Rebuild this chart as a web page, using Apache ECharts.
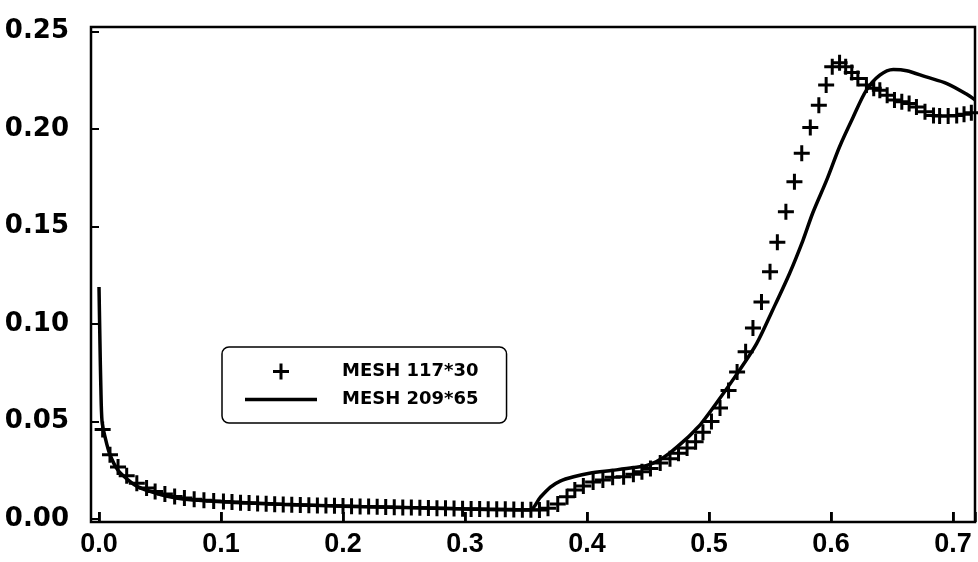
<!DOCTYPE html>
<html>
<head>
<meta charset="utf-8">
<script src="https://cdn.jsdelivr.net/npm/echarts@6/dist/echarts.min.js"></script>
<style>
html,body{margin:0;padding:0;background:#fff;}
#chart{width:978px;height:562px;}
</style>
</head>
<body>
<div id="chart"></div>
<script>
// Tick labels
var xTicks = [0, 0.1, 0.2, 0.3, 0.4, 0.5, 0.6, 0.7];
var yTicks = [0, 0.05, 0.10, 0.15, 0.20, 0.25];

// MESH 117*30 (plus markers)
var meshCoarseX = [0.003,0.009,0.0156,0.0227,0.031,0.039,0.046,0.054,0.062,0.070,0.078,0.086,0.094,0.102,0.109,0.116,0.123,0.130,0.137,0.144,0.151,0.158,0.165,0.172,0.179,0.186,0.193,0.200,0.207,0.214,0.221,0.228,0.235,0.242,0.249,0.256,0.263,0.270,0.277,0.284,0.291,0.298,0.305,0.312,0.319,0.326,0.333,0.340,0.347,0.354,0.361,0.368,0.376,0.3836,0.390,0.397,0.405,0.413,0.421,0.430,0.438,0.445,0.452,0.460,0.468,0.475,0.482,0.489,0.495,0.502,0.509,0.516,0.523,0.530,0.536,0.543,0.550,0.556,0.563,0.570,0.576,0.583,0.590,0.596,0.601,0.607,0.612,0.617,0.622,0.629,0.635,0.640,0.646,0.652,0.658,0.664,0.670,0.677,0.684,0.689,0.696,0.703,0.709,0.715];
var meshCoarseY = [0.046,0.033,0.0267,0.0222,0.0184,0.0159,0.0142,0.0128,0.0116,0.0108,0.0102,0.0097,0.0093,0.0090,0.0087,0.0084,0.0082,0.0080,0.0078,0.0076,0.0075,0.0073,0.0072,0.0071,0.0070,0.0069,0.0068,0.0067,0.0066,0.0065,0.0064,0.0063,0.0062,0.0061,0.0060,0.0059,0.0058,0.0057,0.0056,0.0055,0.0054,0.0053,0.0052,0.0052,0.0051,0.0050,0.0050,0.0049,0.0048,0.0048,0.0046,0.0056,0.0077,0.0114,0.0149,0.0170,0.0190,0.0200,0.0215,0.0217,0.0230,0.0243,0.0260,0.0287,0.0310,0.0338,0.0364,0.0397,0.0445,0.0500,0.0570,0.0660,0.0755,0.0858,0.0980,0.1114,0.1268,0.1420,0.1576,0.1730,0.1877,0.2008,0.2123,0.2226,0.2320,0.2340,0.2320,0.2290,0.2260,0.2226,0.2210,0.2200,0.2174,0.2149,0.2140,0.2131,0.2114,0.2089,0.2070,0.2067,0.2067,0.2070,0.2077,0.2084];

// MESH 209*65 (solid line)
var meshFineX = [0.0,0.0008,0.0015,0.0025,0.005,0.009,0.0156,0.024,0.032,0.043,0.057,0.070,0.090,0.111,0.15,0.2,0.25,0.3,0.353,0.3615,0.370,0.378,0.389,0.402,0.421,0.438,0.449,0.457,0.468,0.482,0.4885,0.493,0.506,0.525,0.539,0.552,0.566,0.577,0.585,0.5965,0.607,0.618,0.629,0.640,0.651,0.662,0.678,0.695,0.711,0.718];
var meshFineY = [0.119,0.090,0.068,0.050,0.042,0.033,0.025,0.020,0.0165,0.0140,0.0115,0.0102,0.0093,0.0086,0.0076,0.0066,0.0059,0.0052,0.0047,0.0110,0.0164,0.0195,0.0217,0.0235,0.0250,0.0264,0.0275,0.0295,0.0340,0.0415,0.0456,0.0485,0.0594,0.0764,0.0900,0.1070,0.1260,0.1430,0.1570,0.1740,0.1910,0.2060,0.2200,0.2277,0.2306,0.2300,0.2268,0.2234,0.2180,0.2150];

function pairs(xs, ys){ var out=[]; for(var i=0;i<xs.length;i++){ out.push([xs[i], ys[i]]); } return out; }

var Y_MIN = -0.0015, Y_MAX = 0.2524;
var FONT = '"Liberation Sans", Arial, Helvetica, sans-serif';
var WIDEFONT = '"DejaVu Sans", Verdana, sans-serif';
var PLUS = 'path://M6.5,0h3v6.5h6.5v3h-6.5v6.5h-3v-6.5h-6.5v-3h6.5z';
var LINEICON = 'path://M0,0h72v3.5h-72z';

var chart = echarts.init(document.getElementById('chart'), null, {renderer:'canvas'});
chart.setOption({
  backgroundColor: '#ffffff',
  animation: false,
  grid: [
    { left: 91, top: 27, width: 884, height: 495, show: true, borderColor: '#000', borderWidth: 2.5, backgroundColor: 'transparent' },
    { left: 99, top: 27, width: 876, height: 495 }
  ],
  legend: {
    left: 222, top: 347,
    orient: 'vertical',
    data: [
      { name: 'MESH 117*30', icon: PLUS },
      { name: 'MESH 209*65', icon: LINEICON }
    ],
    itemWidth: 72, itemHeight: 16, itemGap: 5,
    padding: [13, 28, 12, 23],
    borderColor: '#000', borderWidth: 1.5, borderRadius: 7,
    backgroundColor: '#fff',
    symbolKeepAspect: true,
    itemStyle: { color: '#000', opacity: 1 },
    textStyle: { fontFamily: WIDEFONT, fontWeight: 'bold', fontSize: 18, color: '#000', lineHeight: 23, padding: [0,0,0,20] }
  },
  xAxis: [
    { gridIndex: 0, type: 'value', min: 0, max: 1, show: false },
    {
      gridIndex: 1, type: 'value', min: 0, max: 0.718, interval: 0.1, position: 'bottom',
      splitLine: { show: false },
      axisLine: { show: false, onZero: false },
      axisTick: { show: true, inside: true, length: 10, lineStyle: { color: '#000', width: 2.5 } },
      axisLabel: { customValues: xTicks, margin: 9, fontFamily: FONT, fontWeight: 'bold', fontSize: 27, color: '#000',
        formatter: function(v){ return v.toFixed(1); } }
    }
  ],
  yAxis: [
    { gridIndex: 0, type: 'value', min: 0, max: 1, show: false },
    {
      gridIndex: 1, type: 'value', min: Y_MIN, max: Y_MAX, position: 'left',
      splitLine: { show: false },
      axisLine: { show: false, onZero: false },
      axisTick: { show: true, inside: false, length: 9, customValues: yTicks, lineStyle: { color: '#000', width: 2 } },
      axisLabel: { customValues: yTicks, margin: 30, fontFamily: WIDEFONT, fontWeight: 'bold', fontSize: 26, color: '#000',
        formatter: function(v){ return v.toFixed(2); } }
    }
  ],
  series: [
    {
      name: 'MESH 117*30',
      type: 'scatter',
      xAxisIndex: 1, yAxisIndex: 1,
      symbol: PLUS,
      symbolSize: 16,
      clip: false,
      itemStyle: { color: '#000', opacity: 1 },
      data: pairs(meshCoarseX, meshCoarseY),
      z: 3
    },
    {
      name: 'MESH 209*65',
      type: 'line',
      xAxisIndex: 1, yAxisIndex: 1,
      symbol: 'none',
      smooth: 0.3,
      lineStyle: { color: '#000', width: 3.5 },
      itemStyle: { color: '#000' },
      data: pairs(meshFineX, meshFineY),
      z: 2
    }
  ]
});

// x-axis tick marks on the bottom frame, positioned through the x scale
var bottomPx = chart.convertToPixel({ yAxisIndex: 1 }, Y_MIN);
var tickGraphics = xTicks.map(function(v){
  var px = chart.convertToPixel({ xAxisIndex: 1 }, v);
  return {
    type: 'rect',
    z: 100,
    silent: true,
    shape: { x: Math.round(px) - 1, y: bottomPx - 10, width: 2.5, height: 10 },
    style: { fill: '#000' }
  };
});
chart.setOption({ graphic: { elements: tickGraphics } });
</script>
</body>
</html>
